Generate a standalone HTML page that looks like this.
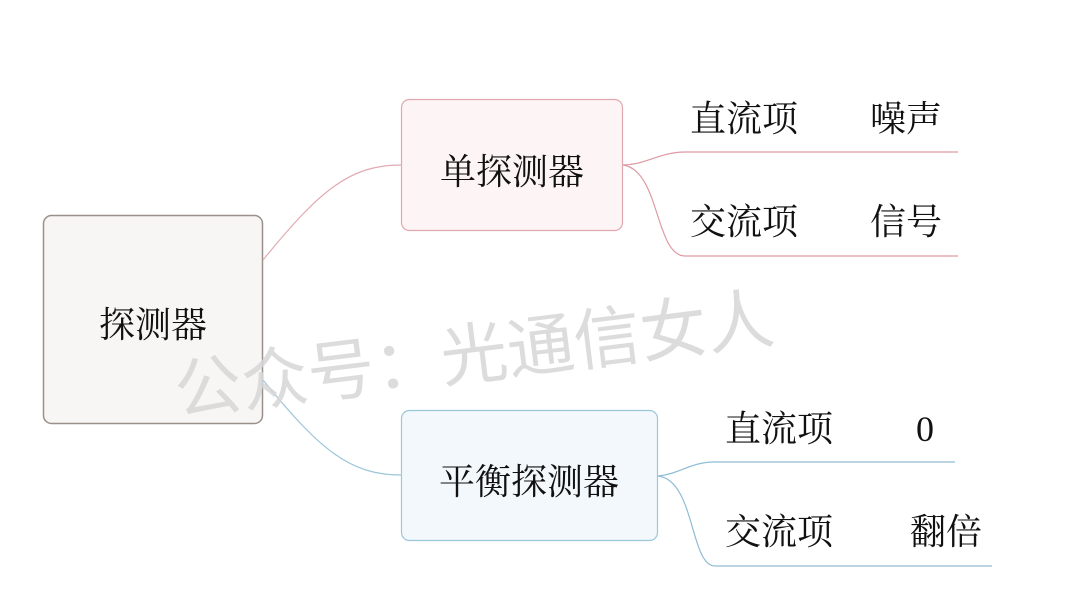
<!DOCTYPE html>
<html><head><meta charset="utf-8"><style>
html,body{margin:0;padding:0;background:#fff;width:1080px;height:608px;overflow:hidden}
svg{display:block}
.t{font-family:"Liberation Serif","Noto Serif CJK SC",serif;font-size:36px;fill:#111}
</style></head><body>
<svg width="1080" height="608" viewBox="0 0 1080 608" xmlns="http://www.w3.org/2000/svg">
<rect x="43.5" y="215.5" width="219" height="208" rx="8" fill="#f8f6f4" stroke="#9a8f8a" stroke-width="1.5"/>
<rect x="401.5" y="99.5" width="221" height="131" rx="8" fill="#fdf4f5" stroke="#e2a8b0" stroke-width="1.2"/>
<rect x="401.5" y="410.5" width="256" height="130" rx="8" fill="#f2f8fb" stroke="#9cc6da" stroke-width="1.2"/>
<g fill="none" stroke-width="1.2">
<path d="M263 260 C320 190 350 165 401 165" stroke="#e2aab2"/>
<path d="M263 380 C320 450 350 475 401 475" stroke="#9cc6da"/>
<path d="M623 165 C645 165 660 152 685 152 L958 152" stroke="#dd9aa4"/>
<path d="M623 165 C660 170 655 256 685 256 L958 256" stroke="#dd9aa4"/>
<path d="M658 476 C680 474 690 462 715 462 L955 462" stroke="#8fbdd4"/>
<path d="M658 476 C695 480 690 566 715 566 L992 566" stroke="#8fbdd4"/>
</g>
<text x="172" y="378" transform="rotate(-7 475 350)" font-family="'Liberation Sans','Noto Sans CJK SC',sans-serif" font-size="67" fill="#d6d6d6" fill-opacity="0.85">公众号：光通信女人</text>
<text class="t" x="153" y="337" text-anchor="middle">探测器</text>
<text class="t" x="512" y="184" text-anchor="middle">单探测器</text>
<text class="t" x="529" y="494" text-anchor="middle">平衡探测器</text>
<text class="t" x="690" y="131">直流项</text>
<text class="t" x="870" y="131">噪声</text>
<text class="t" x="690" y="234">交流项</text>
<text class="t" x="870" y="234">信号</text>
<text class="t" x="725" y="441">直流项</text>
<text class="t" x="916" y="441">0</text>
<text class="t" x="725" y="544">交流项</text>
<text class="t" x="910" y="544">翻倍</text>
</svg>
</body></html>
